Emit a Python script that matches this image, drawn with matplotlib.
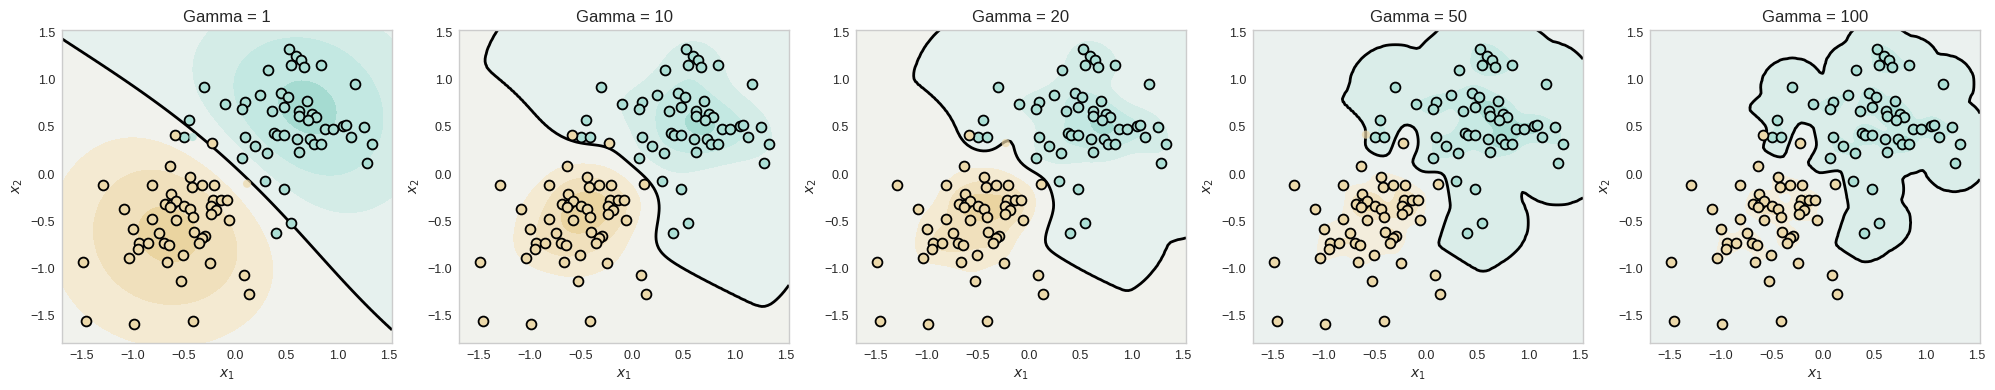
import numpy as np
import matplotlib
matplotlib.use('Agg')
import matplotlib.pyplot as plt
from matplotlib.colors import LinearSegmentedColormap

# 두 클래스 데이터
teal_x = [0.526, 0.601, 0.647, 0.552, 0.673, 0.836, 0.321, 1.171, -0.298, -0.099,
          0.103, 0.073, 0.249, 0.451, 0.523, 0.366, 0.477, 0.702, 0.621, 0.627,
          0.754, 0.796, 0.718, 0.878, 0.956, 1.060, 1.080, 1.265, 1.129, 1.334,
          1.285, 0.379, 0.412, 0.477, 0.611, 0.731, 0.774, 0.836, 0.630, 0.096,
          0.197, 0.318, 0.070, 0.292, 0.480, 0.552, 0.402, -0.448, -0.500, -0.412]
teal_y = [1.327, 1.249, 1.214, 1.161, 1.136, 1.157, 1.101, 0.959, 0.924, 0.740,
          0.761, 0.691, 0.836, 0.857, 0.822, 0.670, 0.712, 0.776, 0.670, 0.613,
          0.641, 0.606, 0.571, 0.475, 0.475, 0.514, 0.525, 0.500, 0.390, 0.320,
          0.122, 0.433, 0.419, 0.412, 0.373, 0.376, 0.323, 0.323, 0.231, 0.390,
          0.295, 0.224, 0.168, -0.069, -0.157, -0.514, -0.620, 0.571, 0.394, 0.394]
tan_x = [0.119, -0.585, -0.226, -0.630, -0.438, -0.419, -0.324, -0.207, -0.806, -1.288,
         -0.627, -0.679, -0.617, -0.575, -0.630, -0.493, -0.435, -0.409, -0.578, -0.210,
         -0.135, -0.080, -0.230, -0.181, -0.233, -0.057, -1.083, -0.813, -0.995, -0.744,
         -0.402, -0.288, -0.324, -0.353, -0.936, -0.943, -0.845, -0.689, -0.647, -1.031,
         -0.507, -0.660, -0.239, -1.487, -0.523, 0.093, 0.135, -1.454, -0.989, -0.412]
tan_y = [-0.101, 0.419, 0.330, 0.087, -0.034, -0.140, -0.111, -0.111, -0.111, -0.118,
         -0.214, -0.320, -0.313, -0.288, -0.348, -0.341, -0.373, -0.454, -0.482, -0.270,
         -0.277, -0.270, -0.337, -0.376, -0.422, -0.486, -0.369, -0.472, -0.578, -0.624,
         -0.617, -0.656, -0.680, -0.726, -0.726, -0.790, -0.730, -0.730, -0.747, -0.889,
         -0.860, -0.935, -0.942, -0.935, -1.133, -1.072, -1.270, -1.553, -1.588, -1.560]

gammas = [1, 10, 20, 50, 100]
# 감마별 아주 작은 절편 (결정함수 = sum y_i K - bias)
bias = [1e-4, 1e-6, 1e-6, 5e-5, 1e-4]

# 패널마다 흐리게 찍힌 점 (class, index)
faint = {1: [('teal', 49), ('tan', 0)], 20: [('tan', 2)], 50: [('tan', 1)]}

X = np.column_stack([teal_x + tan_x, teal_y + tan_y])
y = np.array([1.0] * len(teal_x) + [-1.0] * len(tan_x))


def rbf(A, B, gamma):
    d2 = ((A[:, None, :] - B[None, :, :]) ** 2).sum(-1)
    return np.exp(-gamma * d2)


plt.rcParams['font.family'] = ['Liberation Sans', 'DejaVu Sans']

# 배경 채색용 컬러맵 (황토 -> 옅은 회색 -> 청록)
fill_cmap = LinearSegmentedColormap.from_list('tan_teal', [
    (0.0, '#e6cd94'), (0.0625, '#ead4a0'), (0.1875, '#f0e0bc'), (0.3125, '#f4ead2'),
    (0.4375, '#f1f2ed'), (0.5, '#ebf1ef'), (0.5625, '#e6f1ee'), (0.643, '#daede9'),
    (0.8125, '#c4e8e2'), (0.9375, '#a6dbd1'), (1.0, '#9bd6cb')])
tan_face = '#ecd9aa'
teal_face = '#acdfd5'

x_min, x_max = X[:, 0].min() - 0.2, X[:, 0].max() + 0.2
y_min, y_max = X[:, 1].min() - 0.2, X[:, 1].max() + 0.2
xx, yy = np.meshgrid(np.linspace(x_min, x_max, 110), np.linspace(y_min, y_max, 110))
grid = np.column_stack([xx.ravel(), yy.ravel()])

fig, axes = plt.subplots(1, 5, figsize=(19.95, 3.9), dpi=100)
fig.subplots_adjust(left=0.0311, right=0.9925, top=0.923, bottom=0.1205, wspace=0.203)

for ax, g, b in zip(axes, gammas, bias):
    Z = (rbf(grid, X, g) @ y - b).reshape(xx.shape)

    ax.contourf(xx, yy, Z, cmap=fill_cmap)
    ax.contour(xx, yy, Z, levels=[0], colors='k', linewidths=2)

    skip = faint.get(g, [])
    for name, px, py, face in [('teal', teal_x, teal_y, teal_face), ('tan', tan_x, tan_y, tan_face)]:
        keep = [k for k in range(len(px)) if (name, k) not in skip]
        ax.scatter([px[k] for k in keep], [py[k] for k in keep], s=50,
                   facecolors=face, edgecolors='k', linewidths=1.3, zorder=3)
        dim = [k for k in range(len(px)) if (name, k) in skip]
        if dim:
            ax.scatter([px[k] for k in dim], [py[k] for k in dim], s=35,
                       facecolors=face, edgecolors='none', alpha=0.7, zorder=3)

    ax.set_xlim(x_min, x_max)
    ax.set_ylim(y_min, y_max)
    ax.set_xticks([-1.5, -1.0, -0.5, 0.0, 0.5, 1.0, 1.5])
    ax.set_yticks([-1.5, -1.0, -0.5, 0.0, 0.5, 1.0, 1.5])
    ax.tick_params(length=0, labelsize=9, labelcolor='#262626', pad=5)
    for sp in ax.spines.values():
        sp.set_color('#cccccc')
        sp.set_linewidth(1.0)
    ax.set_title(f'Gamma = {g}', fontsize=12, color='#262626')
    ax.set_xlabel('$x_1$', fontsize=10, color='#262626')
    ax.set_ylabel('$x_2$', fontsize=10, color='#262626')

fig.savefig('out.png', dpi=100)
